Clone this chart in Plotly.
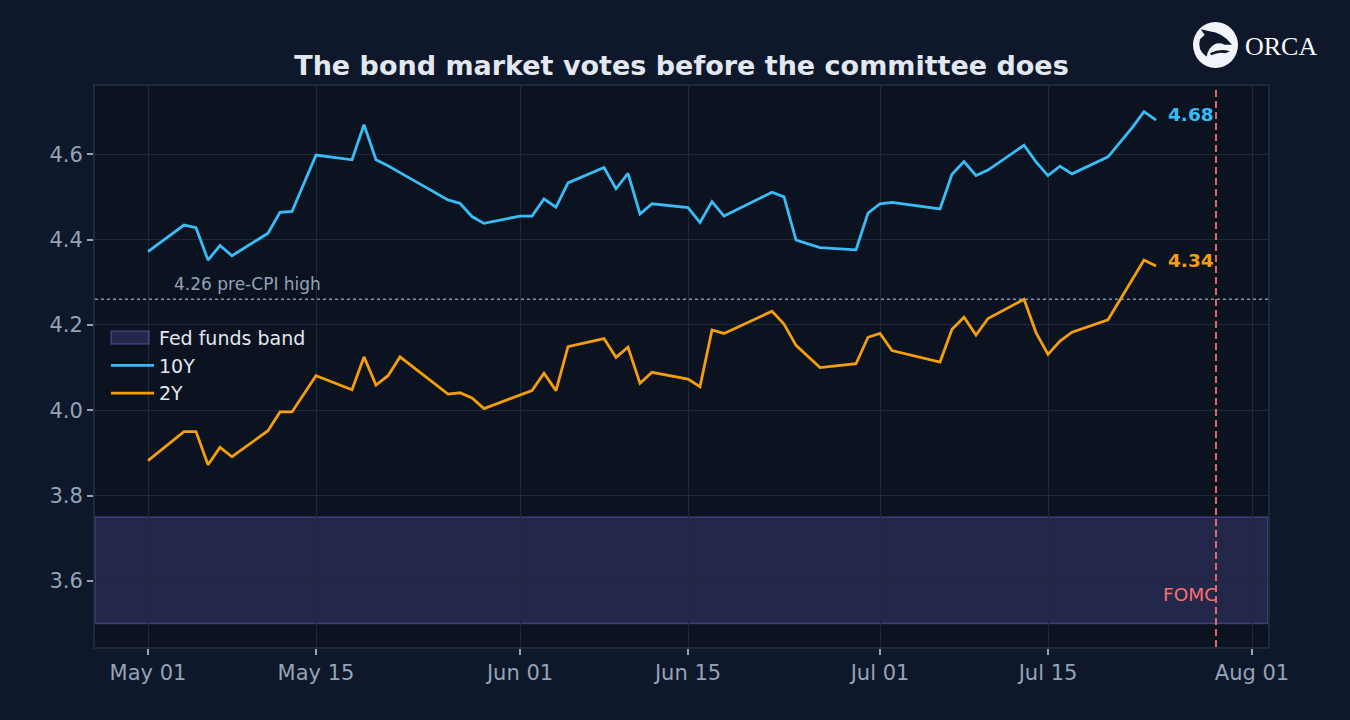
import plotly.graph_objects as go

# trading days, May-Jul 2026 (Memorial Day, Juneteenth, Jul 3 closed)
dates = [
    "2026-05-01", "2026-05-04", "2026-05-05", "2026-05-06", "2026-05-07", "2026-05-08",
    "2026-05-11", "2026-05-12", "2026-05-13", "2026-05-14", "2026-05-15",
    "2026-05-18", "2026-05-19", "2026-05-20", "2026-05-21", "2026-05-22",
    "2026-05-26", "2026-05-27", "2026-05-28", "2026-05-29",
    "2026-06-01", "2026-06-02", "2026-06-03", "2026-06-04", "2026-06-05",
    "2026-06-08", "2026-06-09", "2026-06-10", "2026-06-11", "2026-06-12",
    "2026-06-15", "2026-06-16", "2026-06-17", "2026-06-18",
    "2026-06-22", "2026-06-23", "2026-06-24", "2026-06-25", "2026-06-26",
    "2026-06-29", "2026-06-30", "2026-07-01", "2026-07-02",
    "2026-07-06", "2026-07-07", "2026-07-08", "2026-07-09", "2026-07-10",
    "2026-07-13", "2026-07-14", "2026-07-15", "2026-07-16", "2026-07-17",
    "2026-07-20", "2026-07-21", "2026-07-22", "2026-07-23", "2026-07-24",
]

y10 = [
    4.372, 4.434, 4.428, 4.352, 4.386, 4.362,
    4.415, 4.464, 4.466, 4.532, 4.598,
    4.587, 4.669, 4.587, 4.573, 4.557,
    4.493, 4.485, 4.454, 4.438,
    4.455, 4.455, 4.495, 4.476, 4.533,
    4.569, 4.519, 4.555, 4.460, 4.484,
    4.475, 4.440, 4.489, 4.455,
    4.511, 4.500, 4.399, 4.390, 4.381,
    4.376, 4.462, 4.484, 4.487,
    4.472, 4.553, 4.583, 4.550, 4.563,
    4.621, 4.582, 4.550, 4.572, 4.554,
    4.594, 4.628, 4.662, 4.700, 4.680,
]

y2 = [
    3.882, 3.950, 3.950, 3.872, 3.913, 3.891,
    3.952, 3.996, 3.996, 4.038, 4.081,
    4.048, 4.125, 4.059, 4.081, 4.125,
    4.038, 4.041, 4.029, 4.004,
    4.035, 4.046, 4.087, 4.046, 4.149,
    4.168, 4.124, 4.148, 4.063, 4.089,
    4.073, 4.055, 4.188, 4.180,
    4.232, 4.202, 4.152, 4.126, 4.100,
    4.109, 4.171, 4.180, 4.140,
    4.113, 4.190, 4.218, 4.176, 4.215,
    4.260, 4.182, 4.131, 4.162, 4.183,
    4.212, 4.258, 4.303, 4.352, 4.338,
]

band_low, band_high = 3.50, 3.75
pre_cpi_high = 4.26
fomc_date = "2026-07-29"
x_range = ["2026-04-26 14:00", "2026-08-02 08:00"]
tick_dates = ["2026-05-01", "2026-05-15", "2026-06-01", "2026-06-15",
              "2026-07-01", "2026-07-15", "2026-08-01"]

BG = "#0f172a"
PLOT_BG = "#0b1220"
GRID = "#1e293b"
MUTED = "#94a3b8"
TEXT = "#e2e8f0"
C10 = "#38bdf8"
C2 = "#f59e0b"
RED = "#f87171"
BAND_FILL = "rgba(129,120,230,0.21)"
BAND_LINE = "rgba(129,120,230,0.38)"
FONT = "DejaVu Sans"

W, H = 1350, 720
M = dict(l=95, r=82, t=86, b=73)


def px2paper(px, py):
    pw = W - M["l"] - M["r"]
    ph = H - M["t"] - M["b"]
    return (px - M["l"]) / pw, (H - M["b"] - py) / ph


def logo_path(cmds, ox=1188, oy=18, s=3.0):
    # cmds: (letter, [zx, zy, ...]) sketched on a 3x blow-up of the logo
    out = []
    for letter, pts in cmds:
        coords = []
        for i in range(0, len(pts), 2):
            x, y = px2paper(ox + pts[i] / s, oy + pts[i + 1] / s)
            coords.append(f"{x:.5f},{y:.5f}")
        out.append(letter + " " + " ".join(coords))
    return " ".join(out) + " Z"


fig = go.Figure()

# legend entry for the band (its swatch is drawn as a box below)
fig.add_trace(go.Scatter(
    x=[None], y=[None], mode="lines", name="Fed funds band",
    line=dict(color="rgba(0,0,0,0)", width=1), hoverinfo="skip",
))
fig.add_trace(go.Scatter(
    x=dates, y=y10, mode="lines", name="10Y",
    line=dict(color=C10, width=2.8),
))
fig.add_trace(go.Scatter(
    x=dates, y=y2, mode="lines", name="2Y",
    line=dict(color=C2, width=2.8),
))

# fed funds band
fig.add_shape(
    type="rect", xref="paper", x0=0, x1=1, yref="y", y0=band_low, y1=band_high,
    fillcolor=BAND_FILL, line=dict(color=BAND_LINE, width=1.5), layer="below",
)
sx0, sy0 = px2paper(111, 344)
sx1, sy1 = px2paper(149, 331)
fig.add_shape(
    type="rect", xref="paper", yref="paper", x0=sx0, y0=sy0, x1=sx1, y1=sy1,
    fillcolor=BAND_FILL, line=dict(color=BAND_LINE, width=1.5), layer="above",
)

# pre-CPI high
fig.add_shape(
    type="line", xref="paper", x0=0, x1=1, yref="y", y0=pre_cpi_high, y1=pre_cpi_high,
    line=dict(color=MUTED, width=1.5, dash="dot"), opacity=0.9,
)
fig.add_annotation(
    x="2026-05-03", y=pre_cpi_high, xanchor="left", yanchor="bottom", yshift=3,
    text=f"{pre_cpi_high:.2f} pre-CPI high", showarrow=False,
    font=dict(family=FONT, size=17, color=MUTED),
)

# FOMC marker
fig.add_shape(
    type="line", x0=fomc_date, x1=fomc_date, yref="paper", y0=0, y1=1,
    line=dict(color=RED, width=1.8, dash="7px,4px"),
)
fig.add_annotation(
    x=fomc_date, y=3.567, xanchor="right", yanchor="middle", xshift=3,
    text="FOMC", showarrow=False, font=dict(family=FONT, size=18.5, color=RED),
)

# end labels
for ys, col in [(y10, C10), (y2, C2)]:
    fig.add_annotation(
        x=dates[-1], y=ys[-1], xanchor="left", yanchor="middle", xshift=10, yshift=6,
        text=f"<b>{ys[-1]:.2f}</b>", showarrow=False,
        font=dict(family=FONT, size=18.5, color=col),
    )

# logo
cx0, cy0 = px2paper(1193, 68)
cx1, cy1 = px2paper(1238, 22)
fig.add_shape(type="circle", xref="paper", yref="paper", x0=cx0, y0=cy0, x1=cx1, y1=cy1,
              fillcolor="#f1f5f9", line=dict(width=0), layer="above")
body = [
    ("M", [38, 34]), ("L", [64, 40]), ("Q", [104, 44, 132, 80]), ("L", [110, 80]),
    ("Q", [92, 72, 78, 80]), ("Q", [60, 90, 56, 116]), ("Q", [26, 96, 36, 64]), ("L", [50, 50]),
]
fluke = [("M", [66, 106]), ("Q", [95, 90, 126, 100]), ("L", [112, 106]), ("Q", [92, 101, 70, 112])]
for p in (body, fluke):
    fig.add_shape(type="path", xref="paper", yref="paper", path=logo_path(p),
                  fillcolor=BG, line=dict(width=0), layer="above")
lx, ly = px2paper(1243, 46)
fig.add_annotation(xref="paper", yref="paper", x=lx, y=ly, xanchor="left", yanchor="middle",
                   text="ORCA", showarrow=False,
                   font=dict(family="Liberation Serif", size=26, color="#f8fafc"))

fig.update_layout(
    width=W, height=H, margin=M,
    paper_bgcolor=BG, plot_bgcolor=PLOT_BG,
    font=dict(family=FONT, color=MUTED, size=21),
    title=dict(
        text="The bond market votes before the committee does",
        x=0.5, xref="paper", xanchor="center", y=1 - 66 / H, yanchor="middle",
        font=dict(family=FONT, size=27, color=TEXT, weight="bold"),
    ),
    legend=dict(
        x=px2paper(106, 0)[0], y=0.585, xanchor="left", yanchor="top",
        bgcolor="rgba(0,0,0,0)", font=dict(family=FONT, size=19, color=TEXT),
        itemwidth=43, tracegroupgap=0,
    ),
    showlegend=True,
)

fig.update_xaxes(
    type="date", range=x_range,
    tickvals=tick_dates, tickformat="%b %d",
    showgrid=True, gridcolor=GRID, gridwidth=1,
    showline=True, mirror=True, linecolor=GRID, linewidth=2,
    ticks="outside", ticklen=6, tickcolor=MUTED, tickwidth=2,
    tickfont=dict(family=FONT, size=21, color=MUTED), zeroline=False,
)
fig.update_yaxes(
    range=[3.445, 4.760], dtick=0.2, tick0=3.6, tickformat=".1f",
    showgrid=True, gridcolor=GRID, gridwidth=1,
    showline=True, mirror=True, linecolor=GRID, linewidth=2,
    ticks="outside", ticklen=6, tickcolor=MUTED, tickwidth=2,
    tickfont=dict(family=FONT, size=21, color=MUTED), zeroline=False,
)

fig.write_html(
    "out.html",
    config={"displayModeBar": False},
    post_script="document.body.style.margin='0';document.body.style.background='%s';" % BG,
)
